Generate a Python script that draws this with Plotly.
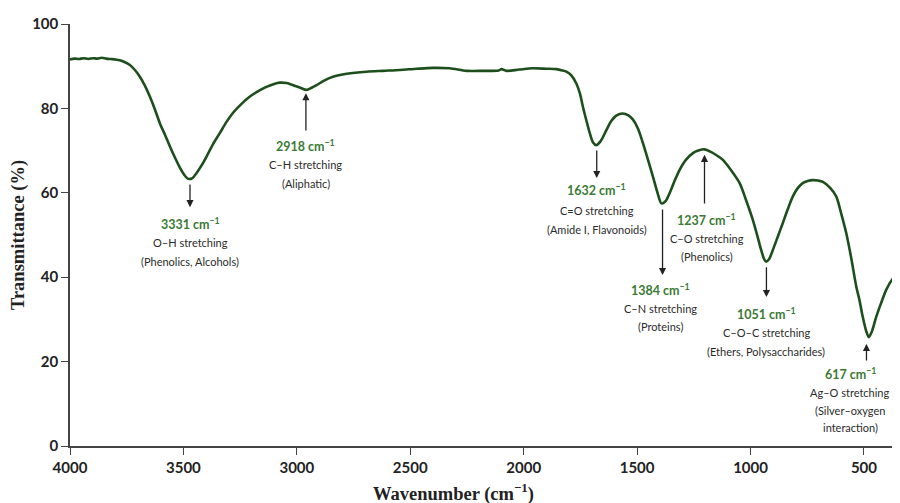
import plotly.graph_objects as go

# Spectrum
wavenumber = [4000, 3980, 3960, 3940, 3920, 3900, 3880, 3860, 3840, 3820, 3800, 3780,
              3760, 3736, 3714, 3692, 3670, 3648, 3626, 3604, 3580, 3559, 3537, 3515,
              3497, 3479, 3460, 3442, 3420, 3398, 3370, 3339, 3310, 3282, 3245, 3207,
              3170, 3134, 3100, 3075, 3045, 3016, 2985, 2957, 2935, 2913, 2880, 2841,
              2780, 2693, 2620, 2546, 2470, 2400, 2326, 2252, 2180, 2110, 2098, 2076,
              2020, 1960, 1900, 1856, 1830, 1812, 1790, 1768, 1752, 1739, 1724, 1709,
              1695, 1680, 1660, 1636, 1614, 1592, 1563, 1540, 1519, 1496, 1474, 1452,
              1430, 1410, 1393, 1375, 1357, 1335, 1313, 1285, 1254, 1230, 1203, 1175,
              1150, 1122, 1085, 1048, 1020, 990, 970, 953, 940, 931, 918, 902,
              880, 858, 836, 814, 792, 770, 748, 726, 703, 681, 650, 622,
              600, 578, 556, 534, 520, 505, 490, 479, 466, 446, 425, 402,
              375, 351]
transmittance = [91.6, 91.8, 91.7, 91.9, 91.7, 91.9, 91.8, 92.0, 91.8, 91.7, 91.6, 91.4,
                 91.0, 90.3, 89.1, 87.5, 85.4, 82.8, 79.8, 76.5, 73.6, 70.9, 68.3, 65.9,
                 64.3, 63.3, 63.5, 64.7, 66.5, 68.6, 71.5, 74.2, 76.8, 78.9, 81.0, 82.8,
                 84.1, 85.1, 85.8, 86.1, 86.0, 85.5, 84.9, 84.4, 84.9, 85.5, 86.6, 87.5,
                 88.2, 88.7, 88.9, 89.1, 89.4, 89.6, 89.5, 88.9, 88.9, 89.0, 89.3, 88.9,
                 89.2, 89.5, 89.4, 89.3, 89.0, 88.7, 87.8, 85.9, 83.5, 80.4, 77.2, 74.2,
                 72.0, 71.3, 72.3, 74.8, 77.0, 78.3, 78.8, 78.4, 77.4, 75.2, 71.7, 67.8,
                 63.8, 60.0, 57.5, 58.0, 59.9, 62.8, 65.4, 67.8, 69.4, 70.0, 70.3, 69.7,
                 68.9, 67.8, 65.3, 62.3, 58.3, 53.6, 49.8, 46.4, 44.3, 43.7, 44.3, 46.4,
                 49.6, 52.8, 56.1, 59.1, 61.1, 62.3, 62.8, 63.0, 62.9, 62.6, 61.2, 59.1,
                 55.0, 50.4, 44.5, 37.8, 34.6, 30.5, 27.2, 25.8, 27.0, 30.6, 33.8, 37.0,
                 39.5, 40.9]

peak_labels = ["3331 cm<sup>−1</sup>", "2918 cm<sup>−1</sup>", "1632 cm<sup>−1</sup>",
               "1384 cm<sup>−1</sup>", "1237 cm<sup>−1</sup>", "1051 cm<sup>−1</sup>",
               "617 cm<sup>−1</sup>"]
assignments = [["O–H stretching", "(Phenolics, Alcohols)"],
               ["C–H stretching", "(Aliphatic)"],
               ["C=O stretching", "(Amide I, Flavonoids)"],
               ["C–N stretching", "(Proteins)"],
               ["C–O stretching", "(Phenolics)"],
               ["C–O–C stretching", "(Ethers, Polysaccharides)"],
               ["Ag–O stretching", "(Silver–oxygen", "interaction)"]]

arrow_x = [3471, 2960, 1678, 1388, 1203, 930, 489]
arrow_tail = [62.3, 74.4, 70.4, 56.4, 57.1, 42.7, 19.9]
arrow_head = [56.6, 83.6, 63.5, 40.5, 69.0, 35.3, 24.2]
label_x = [3471, 2960, 1678, 1396, 1194, 930, 560]
label_y = [[52.8, 48.3, 43.8],
           [71.3, 66.8, 62.3],
           [60.9, 55.9, 51.4],
           [37.2, 32.7, 28.4],
           [53.6, 49.1, 44.8],
           [31.5, 27.0, 22.5],
           [17.1, 12.6, 8.3, 4.3]]

fig = go.Figure()
fig.add_trace(go.Scatter(x=wavenumber, y=transmittance, mode="lines",
                         line=dict(color="#1d4f1d", width=2.6, shape="spline", smoothing=0.8),
                         showlegend=False, hoverinfo="skip"))

annotations = []
for i in range(len(peak_labels)):
    annotations.append(dict(x=arrow_x[i], y=arrow_head[i], ax=arrow_x[i], ay=arrow_tail[i],
                            xref="x", yref="y", axref="x", ayref="y", text="",
                            showarrow=True, arrowhead=2, arrowsize=1.1, arrowwidth=1.3,
                            arrowcolor="#222222"))
    ys = label_y[i]
    annotations.append(dict(x=label_x[i], y=ys[0], xref="x", yref="y", text=peak_labels[i],
                            showarrow=False, font=dict(family="Lato", size=12.5, color="#3b7a35",
                                                       weight="bold")))
    for j, line in enumerate(assignments[i]):
        annotations.append(dict(x=label_x[i], y=ys[j + 1], xref="x", yref="y", text=line,
                                showarrow=False,
                                font=dict(family="Lato", size=11, color="#2b2b2b")))

# x-axis title placed as in the reference (left of the plot centre)
annotations.append(dict(x=0.4626, y=-0.111, xref="paper", yref="paper",
                        xanchor="center", yanchor="middle", showarrow=False,
                        text="Wavenumber (cm<sup>−1</sup>)",
                        font=dict(family="Liberation Serif", size=18.5, color="#222222", weight="bold")))

fig.update_layout(
    width=892, height=495,
    margin=dict(l=62, r=2, t=16, b=57),
    paper_bgcolor="white", plot_bgcolor="white",
    annotations=annotations,
    xaxis=dict(range=[4000, 350], tickvals=[4000, 3500, 3000, 2500, 2000, 1500, 1000, 500],
               showgrid=False, zeroline=False, showline=True, linecolor="#444444", linewidth=1.5,
               ticks="outside", ticklen=7, tickwidth=1.3, tickcolor="#444444",
               tickfont=dict(family="Lato", size=15, color="#222222", weight="bold")),
    yaxis=dict(range=[0, 100], tickvals=[0, 20, 40, 60, 80, 100],
               showgrid=False, zeroline=False, showline=True, linecolor="#444444", linewidth=1.5,
               ticks="outside", ticklen=7, tickwidth=1.3, tickcolor="#444444",
               tickfont=dict(family="Lato", size=15, color="#222222", weight="bold"),
               title=dict(text="Transmittance (%)", standoff=5,
                          font=dict(family="Liberation Serif", size=18.5, color="#222222", weight="bold"))),
)

fig.write_html("out.html")
